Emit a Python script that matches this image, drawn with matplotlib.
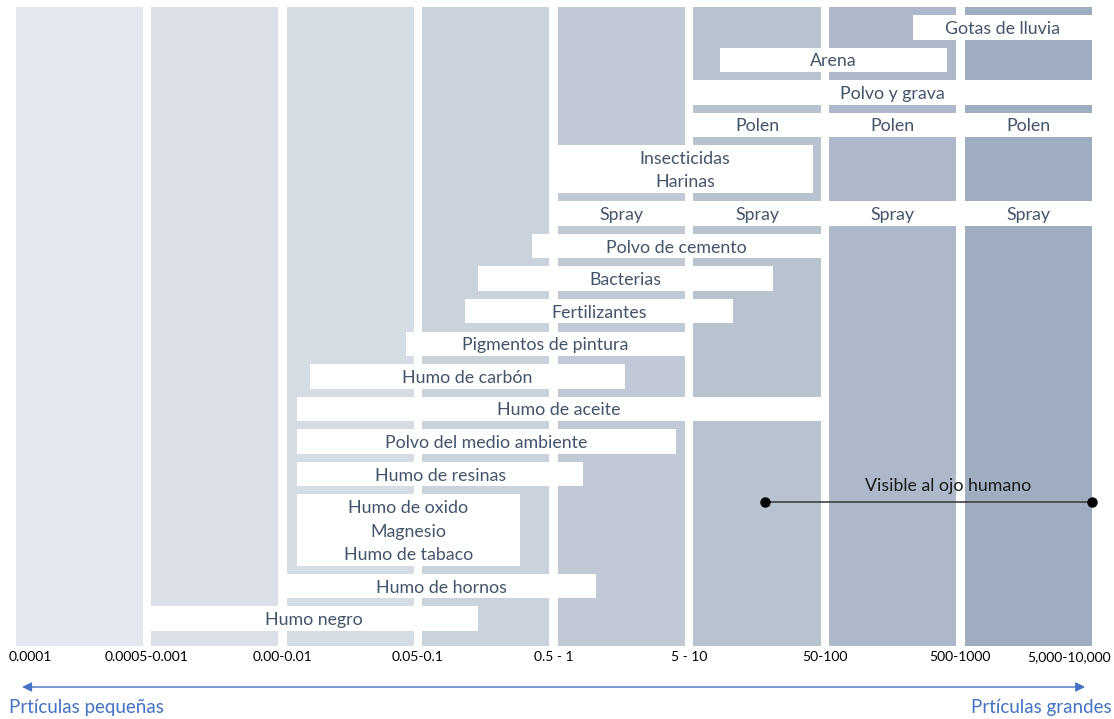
import matplotlib.pyplot as plt

# rangos de tamaño (columnas de fondo)
ranges = ["0.0001", "0.0005-0.001", "0.00-0.01", "0.05-0.1", "0.5 - 1",
          "5 - 10", "50-100", "500-1000", "5,000-10,000"]
col_colors = ["#E4E8EE", "#DBE0E8", "#D6DCE4", "#CAD2DC",
              "#C0C9D5", "#B8C3CF", "#ADB9CA", "#9EADC0"]

# particulas: (etiqueta, inicio, fin) en unidades de columna
labels = ["Gotas de lluvia", "Arena", "Polvo y grava", "Polen",
          "Insecticidas\nHarinas", "Spray", "Polvo de cemento", "Bacterias",
          "Fertilizantes", "Pigmentos de pintura", "Humo de carbón",
          "Humo de aceite", "Polvo del medio ambiente", "Humo de resinas",
          "Humo de oxido\nMagnesio\nHumo de tabaco", "Humo de hornos",
          "Humo negro"]
start = [6.65, 5.23, 5.03, 5.03, 4.03, 4.03, 3.84, 3.44, 3.35, 2.91, 2.20,
         2.11, 2.11, 2.11, 2.11, 2.03, 1.03]
end = [7.97, 6.90, 7.97, 7.97, 5.91, 7.97, 5.97, 5.62, 5.32, 4.97, 4.53,
       5.97, 4.90, 4.22, 3.75, 4.31, 3.44]
# filas con una etiqueta por columna
repeat_cols = {"Polen": [5, 6, 7], "Spray": [4, 5, 6, 7]}

visible = (5.56, 7.97)

txt_col = "#44546A"
blue = "#4472C4"
plt.rcParams["font.family"] = ["Lato", "DejaVu Sans"]

fig = plt.figure(figsize=(11.14, 7.19), dpi=100)
ax = fig.add_axes([0, 0, 1, 1])
ax.set_xlim(-0.083, 8.133)
ax.set_ylim(719, 0)
ax.axis("off")

# columnas de fondo
col_top, col_bot = 7, 646
for i, c in enumerate(col_colors):
    ax.bar(i + 0.5, col_bot - col_top, width=0.937, bottom=col_top,
           color=c, linewidth=0)

# filas blancas
y = 15
row_h, line_h, gap = 24.5, 23.5, 8.06
fs = 12.8
for lab, s, e in zip(labels, start, end):
    n = lab.count("\n") + 1
    h = row_h + (n - 1) * line_h
    yc = y + h / 2
    ax.barh(yc, e - s, left=s, height=h, color="white", linewidth=0)
    if lab in repeat_cols:
        for c in repeat_cols[lab]:
            ax.text(c + 0.5, yc + 1.5, lab, ha="center", va="center",
                    fontsize=fs, color=txt_col)
    else:
        ax.text((s + e) / 2, yc + 1.5, lab, ha="center", va="center",
                fontsize=fs, color=txt_col, linespacing=1.55)
    y += h + gap

# visible al ojo humano
ax.plot(visible, [502, 502], color="#404040", lw=1.2, marker="o",
        markersize=6.5, markerfacecolor="black", markeredgecolor="black")
ax.text(6.91, 486, "Visible al ojo humano", ha="center", va="center",
        fontsize=fs, color="#1a1a1a")

# etiquetas de rangos
for i, r in enumerate(ranges):
    if i == 0:
        ax.text(i - 0.02, 657, r, ha="left", va="center", fontsize=10)
    elif i == len(ranges) - 1:
        ax.text(i + 0.112, 657, r, ha="right", va="center", fontsize=10)
    else:
        ax.text(i, 657, r, ha="center", va="center", fontsize=10)

# flecha
ax.annotate("", xy=(0.08, 687), xytext=(7.92, 687),
            arrowprops=dict(arrowstyle="<|-|>", color=blue, lw=1,
                            mutation_scale=14, shrinkA=0, shrinkB=0))
ax.text(-0.017, 707, "Prtículas pequeñas", ha="left", va="center",
        fontsize=13.5, color=blue)
ax.text(8.112, 708, "Prtículas grandes", ha="right", va="center",
        fontsize=13.5, color=blue)

fig.savefig("out.png", dpi=100)
